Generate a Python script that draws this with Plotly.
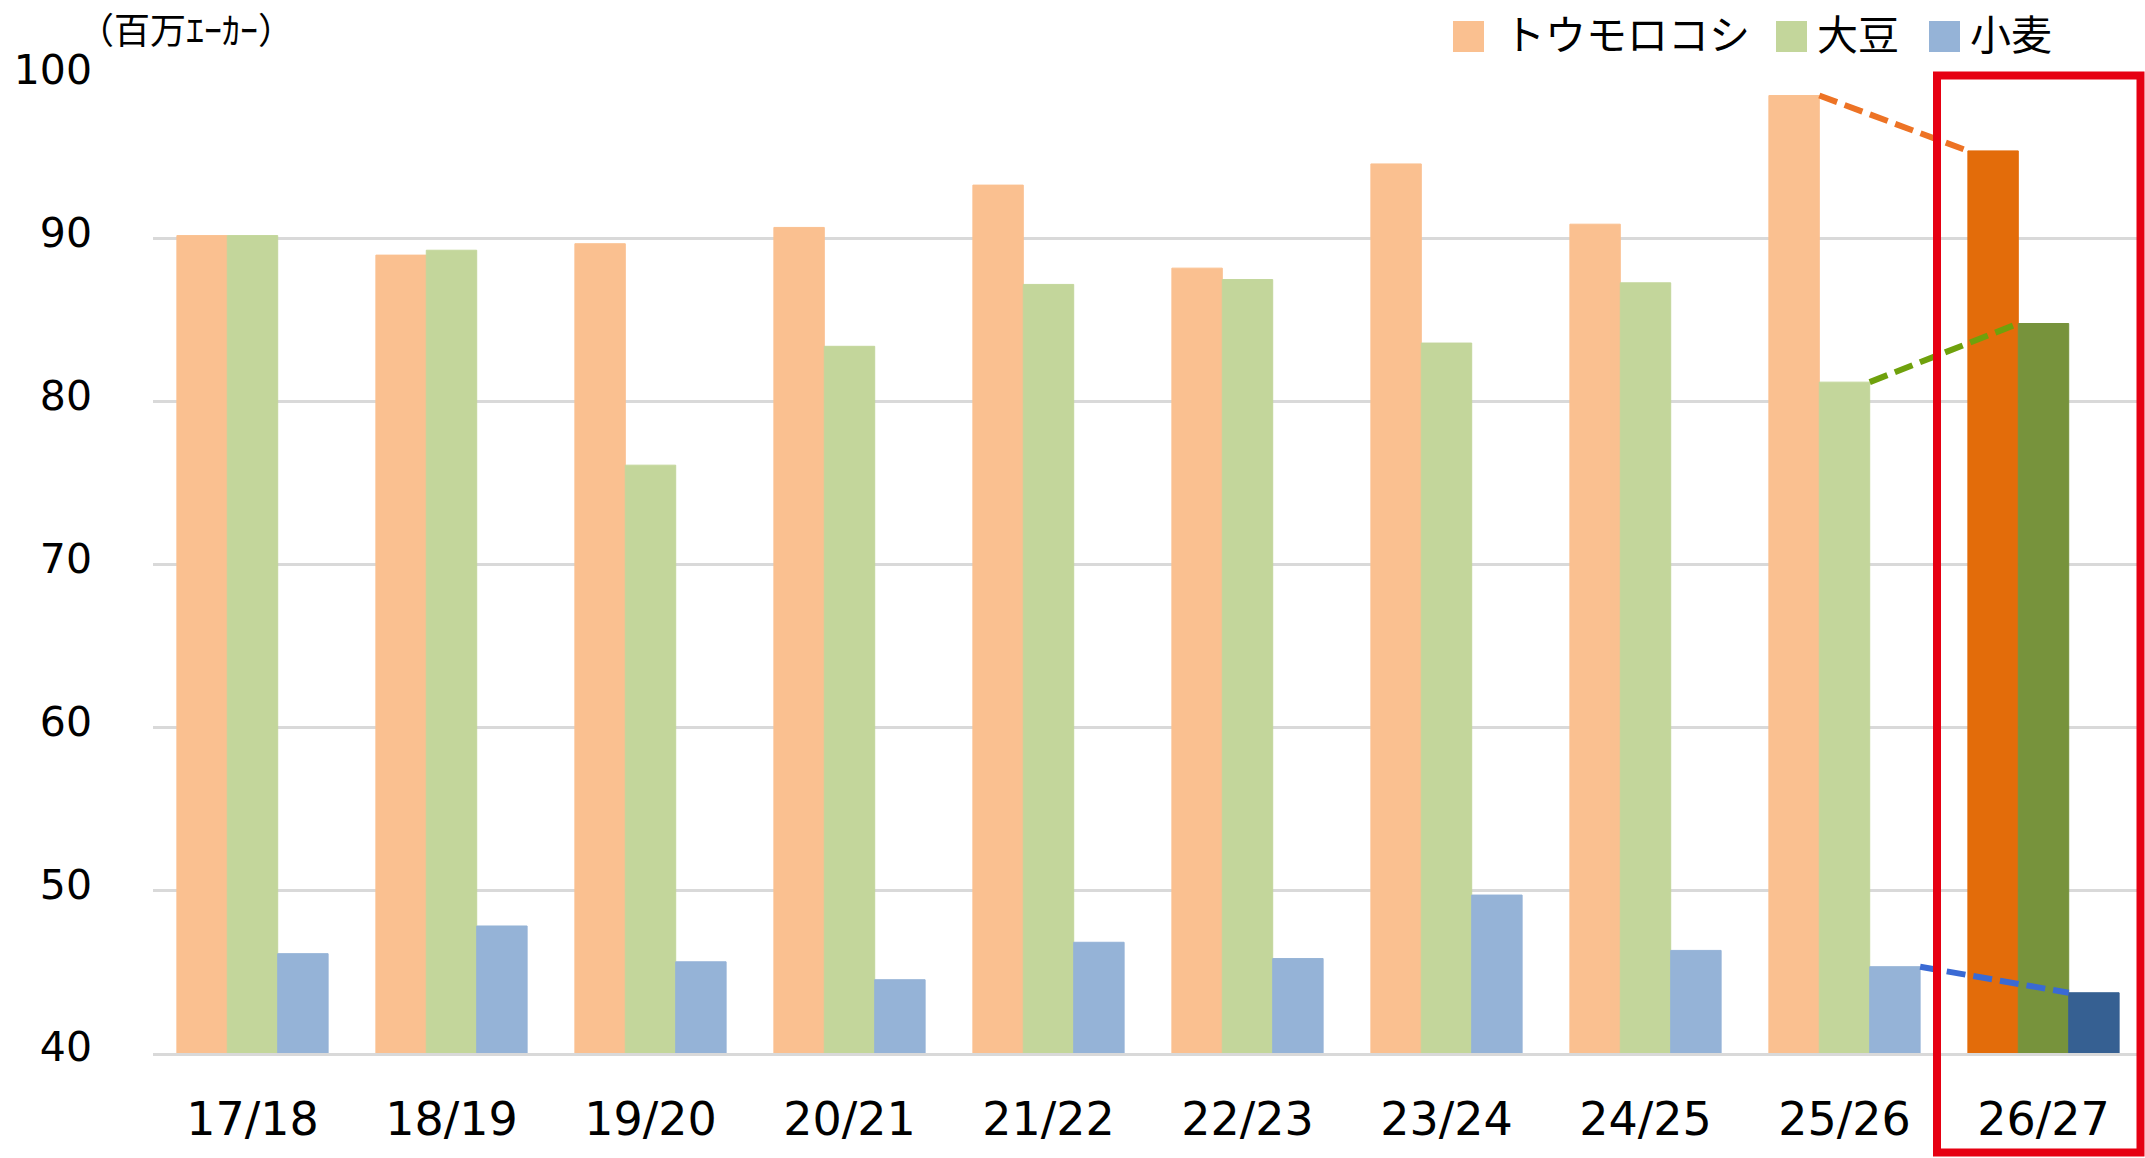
import plotly.graph_objects as go

# ---------------- data ----------------
categories = ["17/18", "18/19", "19/20", "20/21", "21/22", "22/23", "23/24", "24/25", "25/26", "26/27"]
corn = [90.2, 89.0, 89.7, 90.7, 93.3, 88.2, 94.6, 90.9, 98.8, 95.4]
soybean = [90.2, 89.3, 76.1, 83.4, 87.2, 87.5, 83.6, 87.3, 81.2, 84.8]
wheat = [46.1, 47.8, 45.6, 44.5, 46.8, 45.8, 49.7, 46.3, 45.3, 43.7]
series_names = ["トウモロコシ", "大豆", "小麦"]
y_ticks = [40, 50, 60, 70, 80, 90, 100]
unit_label = "（百万ｴｰｶｰ）"

# ---------------- style ----------------
W, H = 2145, 1158
L, R, T, B = 153, 2, 76, 105
light = ["#FAC090", "#C3D69B", "#95B3D7"]
dark = ["#E36C0A", "#77933C", "#366092"]
dash_cols = ["#ED7325", "#6FA10C", "#3A6AD4"]
bargap = 0.24
n = len(categories)
xs = list(range(n))

def px_x(p):
    return (p - L) / (W - L - R)

def px_y(p):
    return (H - B - p) / (H - T - B)

fig = go.Figure()
all_series = [corn, soybean, wheat]
for k, (name, vals) in enumerate(zip(series_names, all_series)):
    cols = [light[k]] * (n - 1) + [dark[k]]
    fig.add_trace(go.Bar(
        x=xs, y=vals, name=name,
        marker=dict(color=cols, line=dict(width=1, color=cols)),
        showlegend=False, hoverinfo="skip",
    ))

# dashed connectors between the last two seasons
w = (1 - bargap) / 3
for k, vals in enumerate(all_series):
    off = (k - 1) * w
    x0 = (n - 2) + off + w / 2
    x1 = (n - 1) + off - w / 2
    fig.add_trace(go.Scatter(
        x=[x0, x1], y=[vals[n - 2], vals[n - 1]], mode="lines",
        line=dict(color=dash_cols[k], width=6, dash="19px,8px"),
        showlegend=False, hoverinfo="skip",
    ))

fig.update_layout(
    width=W, height=H,
    margin=dict(l=L, r=R, t=T, b=B),
    paper_bgcolor="white", plot_bgcolor="white",
    barmode="group", bargap=bargap, bargroupgap=0,
    font=dict(family="DejaVu Sans", color="black"),
    xaxis=dict(
        range=[-0.5, n - 0.5], tickmode="array", tickvals=xs, ticktext=categories,
        showgrid=False, zeroline=False,
        showline=True, linecolor="#D9D9D9", linewidth=2.5,
        tickfont=dict(size=46, family="DejaVu Sans", color="black"),
        ticklabelstandoff=24,
    ),
    yaxis=dict(
        range=[40, 100], tickmode="array", tickvals=y_ticks,
        showgrid=True, gridcolor="#D9D9D9", gridwidth=2.5,
        zeroline=False, showline=False,
        tickfont=dict(size=41, family="DejaVu Sans", color="black"),
        ticklabelstandoff=60, ticklabelshift=-6,
    ),
)

# red highlight frame around last season
fig.add_shape(type="rect", xref="paper", yref="paper",
              x0=px_x(1937), x1=px_x(2140.5), y0=px_y(1152.5), y1=px_y(75.5),
              line=dict(color="#E60012", width=8), fillcolor="rgba(0,0,0,0)", layer="above")

# unit label
fig.add_annotation(text=unit_label, xref="paper", yref="paper",
                   x=px_x(76), y=px_y(28), xanchor="left", yanchor="middle",
                   showarrow=False, font=dict(family="Noto Sans CJK JP", size=36, color="black"))

# custom legend
leg_sq_x = [1453, 1776, 1929]
leg_tx_x = [1503, 1816, 1969]
for k, name in enumerate(series_names):
    fig.add_shape(type="rect", xref="paper", yref="paper",
                  x0=px_x(leg_sq_x[k]), x1=px_x(leg_sq_x[k] + 31),
                  y0=px_y(52), y1=px_y(21),
                  fillcolor=light[k], line=dict(width=0))
    fig.add_annotation(text=name, xref="paper", yref="paper",
                       x=px_x(leg_tx_x[k]), y=px_y(1), xanchor="left", yanchor="top",
                       borderpad=0,
                       showarrow=False, font=dict(family="Noto Sans CJK JP", size=41, color="black"))

fig.write_html("out.html", config={"displayModeBar": False},
               post_script="document.body.style.margin='0';document.body.style.overflow='hidden';")
